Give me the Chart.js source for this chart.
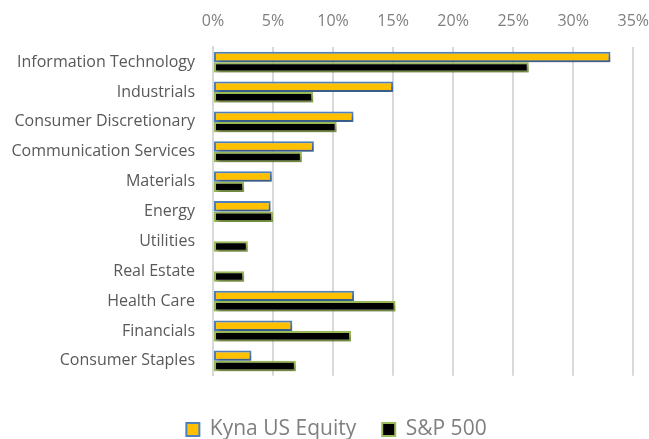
<!DOCTYPE html>
<html>
<head>
<meta charset="utf-8">
<script src="https://cdn.jsdelivr.net/npm/chart.js@4/dist/chart.umd.min.js"></script>
<style>
  html, body { margin: 0; padding: 0; background: #fff; }
  #wrap { width: 649px; height: 439px; }
</style>
</head>
<body>
<div id="wrap"><canvas id="chart-sectors"></canvas></div>
<script>
const sectors = [
    'Information Technology', 'Industrials', 'Consumer Discretionary',
    'Communication Services', 'Materials', 'Energy', 'Utilities',
    'Real Estate', 'Health Care', 'Financials', 'Consumer Staples'
];
const kynaWeights = [33.1, 15.0, 11.7, 8.4, 4.9, 4.8, 0, 0, 11.75, 6.6, 3.2];
const sp500Weights = [26.3, 8.35, 10.3, 7.4, 2.6, 5.0, 2.9, 2.6, 15.2, 11.5, 6.9];
const xTicks = [0, 5, 10, 15, 20, 25, 30, 35];

const fontFamily = '"Open Sans", "Liberation Sans", sans-serif';

// soft drop shadow under the bars, like the Excel original
const barShadow = {
    id: 'barShadow',
    beforeDatasetsDraw(chart) {
        const ctx = chart.ctx;
        ctx.save();
        ctx.shadowColor = 'rgba(0,0,0,0.35)';
        ctx.shadowBlur = 4;
        ctx.shadowOffsetX = 2;
        ctx.shadowOffsetY = 3;
    },
    afterDatasetsDraw(chart) {
        chart.ctx.restore();
    }
};

// nudge the legend a little right, the Excel one is not centred on the canvas
const legendNudge = {
    id: 'legendNudge',
    afterLayout(chart) {
        if (chart.legend) {
            chart.legend.left += 8;
            chart.legend.right += 8;
        }
    }
};

new Chart(document.getElementById('chart-sectors'), {
    type: 'bar',
    data: {
        labels: sectors,
        datasets: [{
            label: 'Kyna US Equity',
            data: kynaWeights,
            backgroundColor: '#FFC000',
            borderColor: '#4F81BD',
            borderWidth: 2,
            borderSkipped: false,
            categoryPercentage: 0.7,
            barPercentage: 1.0
        }, {
            label: 'S&P 500',
            data: sp500Weights,
            backgroundColor: '#000000',
            borderColor: '#9BBB59',
            borderWidth: 2,
            borderSkipped: false,
            categoryPercentage: 0.7,
            barPercentage: 1.0
        }]
    },
    options: {
        indexAxis: 'y',
        responsive: true,
        maintainAspectRatio: false,
        animation: false,
        layout: { padding: { left: 8, right: 0, top: 12, bottom: -11 } },
        scales: {
            x: {
                position: 'top',
                min: 0,
                max: 35,
                afterBuildTicks: axis => { axis.ticks = xTicks.map(v => ({ value: v })); },
                ticks: {
                    callback: v => v + '%',
                    color: '#7f7f7f',
                    font: { family: fontFamily, size: 16 },
                    padding: 0,
                    maxRotation: 0
                },
                grid: { color: '#d9d9d9', lineWidth: 2, drawTicks: true, tickLength: 16, tickColor: 'rgba(0,0,0,0)' },
                border: { display: false }
            },
            y: {
                afterFit: axis => { axis.width = 205; },
                ticks: {
                    color: '#595959',
                    font: { family: fontFamily, size: 16 },
                    padding: 18,
                    autoSkip: false
                },
                grid: { display: false, drawTicks: false },
                border: { display: true, color: '#d9d9d9', width: 2 }
            }
        },
        plugins: {
            legend: {
                position: 'bottom',
                // empty title only adds room above the legend items
                title: { display: true, text: '', font: { size: 1 }, padding: { top: 16, bottom: 0 } },
                labels: {
                    color: '#7f7f7f',
                    font: { family: fontFamily, size: 21 },
                    boxWidth: 13,
                    boxHeight: 13,
                    padding: 26
                }
            },
            tooltip: { enabled: false }
        }
    },
    plugins: [barShadow, legendNudge]
});
</script>
</body>
</html>
